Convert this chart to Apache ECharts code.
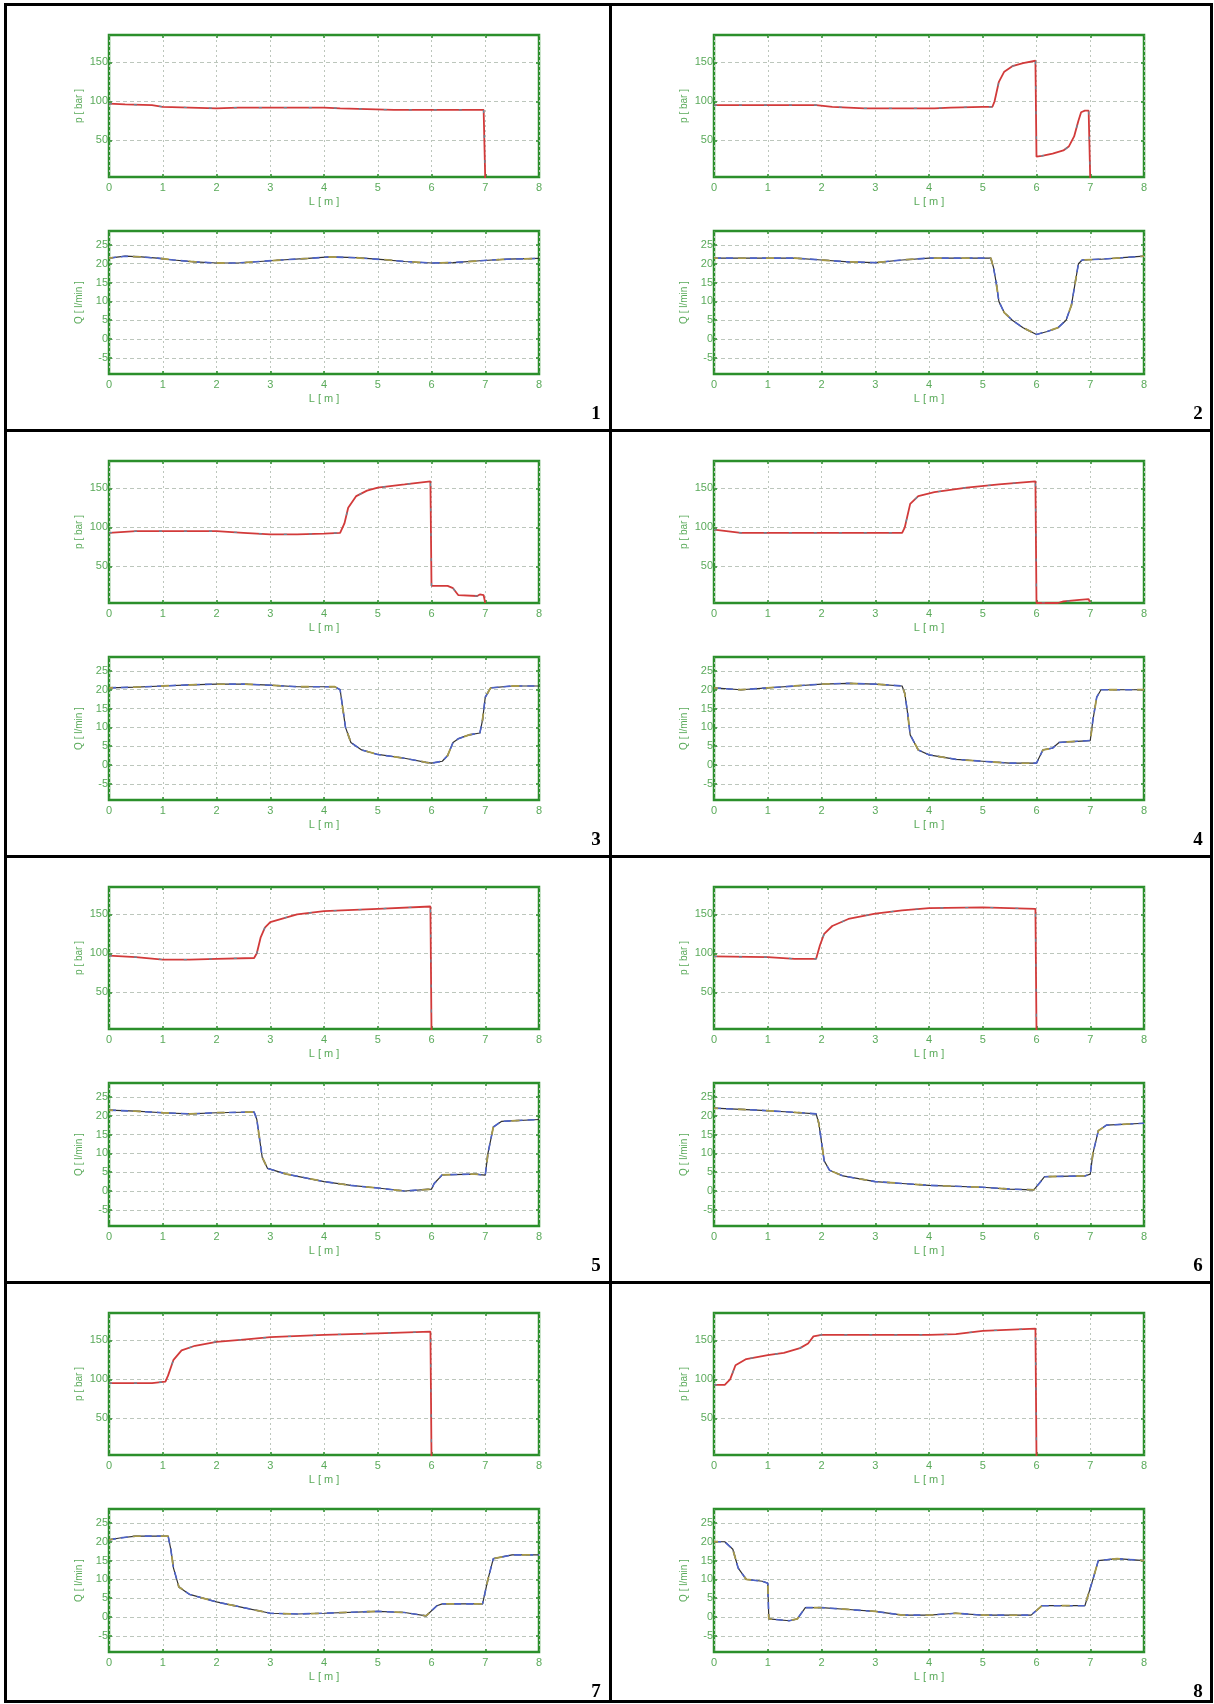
<!DOCTYPE html>
<html><head><meta charset="utf-8">
<script src="https://cdn.jsdelivr.net/npm/echarts@6/dist/echarts.min.js"></script>
<style>html,body{margin:0;padding:0;background:#fff}#c{width:1214px;height:1704px}</style>
</head><body><div id="c"></div>
<script>
// ---- tick labels / categories ----
const L_TICKS = [0,1,2,3,4,5,6,7,8];
const P_TICKS = [50,100,150];
const Q_TICKS = [-5,0,5,10,15,20,25];
const PANEL_LABELS = ['1','2','3','4','5','6','7','8'];
const P_NAME = 'p [ bar ]';
const Q_NAME = 'Q [ l/min ]';
const L_NAME = 'L [ m ]';

// ---- data: [L (m), value] ----
const pressure1 = [[0,97],[0.3,96],[0.8,95],[1.0,93],[1.5,92],[2.0,91],[2.4,92],[3.0,92],[3.5,92],[4.0,92],[4.3,91],[4.8,90],[5.3,89],[6.0,89],[6.5,89],[6.97,89],[7.0,0]];
const flow1 = [[0,21.5],[0.3,22],[0.6,21.8],[0.9,21.5],[1.2,21],[1.6,20.5],[2.0,20.2],[2.4,20.2],[2.8,20.6],[3.2,21],[3.7,21.4],[4.1,21.8],[4.6,21.6],[5.1,21.1],[5.5,20.6],[6.0,20.2],[6.4,20.3],[6.9,20.8],[7.4,21.2],[8,21.4]];

const pressure2 = [[0,95],[1,95],[1.9,95],[2.2,93],[2.8,91],[3.5,91],[4.1,91],[4.4,92],[5.0,93],[5.18,93],[5.22,100],[5.3,125],[5.4,138],[5.55,145],[5.75,149],[5.98,152],[6.0,29],[6.1,30],[6.3,33],[6.5,37],[6.6,42],[6.7,55],[6.78,75],[6.83,86],[6.9,88],[6.97,88],[7.0,0]];
const flow2 = [[0,21.5],[1,21.5],[1.5,21.5],[2.0,21],[2.5,20.5],[3.0,20.3],[3.5,21],[4.0,21.5],[5.0,21.5],[5.15,21.5],[5.2,19],[5.25,15],[5.3,10],[5.4,7],[5.55,5],[5.75,3],[6.0,1.2],[6.2,2],[6.4,3],[6.55,5],[6.65,9],[6.72,15],[6.78,20],[6.85,21],[7.2,21.2],[7.6,21.6],[8,22]];

const pressure3 = [[0,93],[0.5,95],[1,95],[2,95],[2.5,93],[3,91],[3.5,91],[4.0,92],[4.3,93],[4.38,105],[4.45,125],[4.6,140],[4.8,147],[5.0,151],[5.5,155],[5.98,159],[6.0,25],[6.3,25],[6.4,22],[6.5,13],[6.85,12],[6.9,14],[6.97,13],[7.0,3]];
const flow3 = [[0,20.5],[0.5,20.7],[1,21],[1.5,21.3],[2,21.5],[2.5,21.5],[3,21.2],[3.5,20.8],[4.2,20.8],[4.3,20],[4.35,15],[4.4,10],[4.5,6],[4.7,4],[5,2.8],[5.5,1.8],[5.9,0.7],[6.0,0.5],[6.2,1],[6.3,2.5],[6.4,6],[6.5,7],[6.7,8],[6.9,8.5],[6.95,12],[7.0,18],[7.1,20.5],[7.5,21],[8,21]];

const pressure4 = [[0,97],[0.5,93],[1,93],[2,93],[3,93],[3.5,93],[3.55,100],[3.65,130],[3.8,140],[4.1,145],[4.7,151],[5.3,155],[5.98,159],[6.0,3],[6.4,3],[6.5,5],[6.8,7],[6.97,8],[7.0,3]];
const flow4 = [[0,20.5],[0.5,20],[1,20.5],[1.5,21],[2,21.5],[2.5,21.7],[3,21.5],[3.5,21],[3.55,19],[3.6,14],[3.65,8],[3.8,4],[4,2.7],[4.5,1.5],[5,1],[5.5,0.5],[6,0.5],[6.05,2],[6.12,4],[6.3,4.5],[6.42,6],[7.0,6.5],[7.05,12],[7.12,18],[7.2,20],[8,20]];

const pressure5 = [[0,97],[0.5,95],[1,92],[1.5,92],[2,93],[2.7,94],[2.75,100],[2.82,120],[2.9,133],[3.0,140],[3.5,150],[4,154],[5,157],[5.98,160],[6.0,0]];
const flow5 = [[0,21.5],[0.5,21.2],[1,20.8],[1.5,20.5],[2,20.8],[2.7,21],[2.75,19],[2.8,14],[2.85,9],[2.95,6],[3.3,4.5],[4,2.5],[4.5,1.5],[5,0.8],[5.5,0],[6,0.5],[6.05,2],[6.2,4.3],[6.8,4.5],[7.0,4.2],[7.05,10],[7.15,17],[7.3,18.5],[8,19]];

const pressure6 = [[0,96],[1,95],[1.5,93],[1.9,93],[1.97,110],[2.05,125],[2.2,135],[2.5,144],[3,151],[3.5,155],[4,158],[5,159],[5.98,157],[6.0,0]];
const flow6 = [[0,22],[0.8,21.5],[1.4,21],[1.9,20.5],[1.95,18],[2.0,13],[2.05,8],[2.15,5.5],[2.4,4],[3,2.5],[3.5,2],[4,1.5],[5,1],[5.5,0.5],[5.95,0.3],[6.05,2],[6.15,3.8],[6.9,4],[7.0,4.5],[7.05,10],[7.15,16],[7.3,17.5],[8,18]];

const pressure7 = [[0,95],[0.8,95],[1.05,97],[1.1,105],[1.2,125],[1.35,137],[1.6,143],[2,148],[2.5,151],[3,154],[4,157],[5,159],[5.98,161],[6.0,0]];
const flow7 = [[0,20.5],[0.2,21],[0.5,21.5],[1.1,21.5],[1.15,18],[1.2,13],[1.3,8],[1.5,6],[2,4],[2.5,2.5],[3,1],[3.5,0.8],[4,1],[5,1.5],[5.5,1.2],[5.9,0.3],[6.1,3],[6.2,3.5],[6.95,3.5],[7.05,10],[7.15,15.5],[7.5,16.5],[8,16.5]];

const pressure8 = [[0,93],[0.2,93],[0.3,100],[0.4,118],[0.6,126],[1,131],[1.3,134],[1.6,140],[1.75,146],[1.85,155],[2,157],[3,157],[4,157],[4.5,158],[5,162],[5.98,165],[6.0,0]];
const flow8 = [[0,20],[0.2,20],[0.35,18],[0.45,13],[0.6,10],[0.9,9.5],[1.0,9],[1.02,-0.5],[1.4,-1],[1.55,-0.5],[1.7,2.5],[2,2.5],[2.5,2],[3,1.5],[3.5,0.5],[4,0.5],[4.5,1],[5,0.5],[5.9,0.5],[6.1,3],[6.9,3],[7.05,10],[7.15,15],[7.5,15.5],[8,15]];

const PRESSURES = [pressure1,pressure2,pressure3,pressure4,pressure5,pressure6,pressure7,pressure8];
const FLOWS = [flow1,flow2,flow3,flow4,flow5,flow6,flow7,flow8];

// ---- build ----
const GREEN = '#2b8f2b', LABEL = '#5aaa5a', GRIDC = '#bcc6bc';
const FONT = '"Liberation Sans", Arial, sans-serif';
const grids = [], xAxes = [], yAxes = [], series = [], graphics = [];

function addPlot(g, left, top, height, ymin, ymax, ticks, yname, data, isFlow) {
  grids.push({left: left, top: top, width: 430, height: height, show: true,
    borderColor: GREEN, borderWidth: 2.5, backgroundColor: 'transparent', containLabel: false});
  const tick = {show: true, inside: true, length: 3, lineStyle: {color: GREEN, width: 1.5}};
  xAxes.push({gridIndex: g, type: 'value', min: 0, max: 8, interval: 1, position: 'bottom',
    axisLine: {show: false, onZero: false}, axisTick: tick,
    axisLabel: {color: LABEL, fontSize: 11, fontFamily: FONT, margin: 5,
      formatter: v => (L_TICKS.indexOf(v) >= 0 ? String(v) : '')},
    splitLine: {show: true, lineStyle: {color: GRIDC, width: 1, type: [2, 3]}},
    name: L_NAME, nameLocation: 'middle', nameGap: 19,
    nameTextStyle: {color: LABEL, fontSize: 11, fontFamily: FONT}});
  xAxes.push({gridIndex: g, type: 'value', min: 0, max: 8, interval: 1, position: 'top',
    axisLine: {show: false, onZero: false}, axisTick: tick, axisLabel: {show: false}, splitLine: {show: false}});
  yAxes.push({gridIndex: g, type: 'value', min: ymin, max: ymax, position: 'left',
    axisLine: {show: false, onZero: false},
    axisTick: Object.assign({customValues: ticks}, tick),
    axisLabel: {customValues: ticks, color: LABEL, fontSize: 11, fontFamily: FONT, margin: 1},
    splitLine: {show: true, lineStyle: {color: GRIDC, width: 1, type: [4, 3]}},
    name: yname, nameLocation: 'middle', nameGap: 25, nameRotate: 90,
    nameTextStyle: {color: LABEL, fontSize: 10, fontFamily: FONT}});
  yAxes.push({gridIndex: g, type: 'value', min: ymin, max: ymax, position: 'right',
    axisLine: {show: false, onZero: false}, axisTick: Object.assign({customValues: ticks}, tick),
    axisLabel: {show: false}, splitLine: {show: false}});
  const xi = xAxes.length - 2, yi = yAxes.length - 2;
  const base = {type: 'line', xAxisIndex: xi, yAxisIndex: yi, data: data, showSymbol: false,
    symbol: 'none', animation: false, silent: true, clip: true};
  if (!isFlow) {
    series.push(Object.assign({}, base, {lineStyle: {color: '#d23a3a', width: 1.8}}));
    series.push(Object.assign({}, base, {lineStyle: {color: '#5f8fa0', width: 1.2, type: [3, 22]}}));
  } else {
    series.push(Object.assign({}, base, {lineStyle: {color: '#333333', width: 1.2}}));
    series.push(Object.assign({}, base, {lineStyle: {color: '#4d63c8', width: 1.6, type: [7, 5]}}));
    series.push(Object.assign({}, base, {lineStyle: {color: '#a89a4a', width: 1.8, type: [8, 20], dashOffset: 4}}));
  }
}

for (let i = 0; i < 8; i++) {
  const r = Math.floor(i / 2), c = i % 2;
  const left = 109 + 605 * c, top = 35 + 426 * r;
  addPlot(2 * i, left, top, 142, 3, 185, P_TICKS, P_NAME, PRESSURES[i], false);
  addPlot(2 * i + 1, left, top + 196, 143, -9.3, 28.7, Q_TICKS, Q_NAME, FLOWS[i], true);
  graphics.push({type: 'text', x: (c ? 1198 : 596), y: 414 + 426 * r,
    style: {text: PANEL_LABELS[i], font: 'bold 19px "Liberation Serif", "Times New Roman", serif',
      fill: '#000', align: 'center', verticalAlign: 'middle'}});
}
// panel frame lines
const LW = 3, ST = {stroke: '#000', lineWidth: LW};
graphics.push({type: 'rect', shape: {x: 5.5, y: 4.5, width: 1206, height: 1697}, style: {fill: 'none', stroke: '#000', lineWidth: LW}});
graphics.push({type: 'line', shape: {x1: 610.5, y1: 4, x2: 610.5, y2: 1702}, style: ST});
[430.5, 856.5, 1282.5].forEach(y => graphics.push({type: 'line', shape: {x1: 5, y1: y, x2: 1212, y2: y}, style: ST}));

const chart = echarts.init(document.getElementById('c'), null, {renderer: 'canvas'});
chart.setOption({backgroundColor: '#fff', animation: false, grid: grids, xAxis: xAxes, yAxis: yAxes,
  series: series, graphic: graphics});
</script></body></html>
